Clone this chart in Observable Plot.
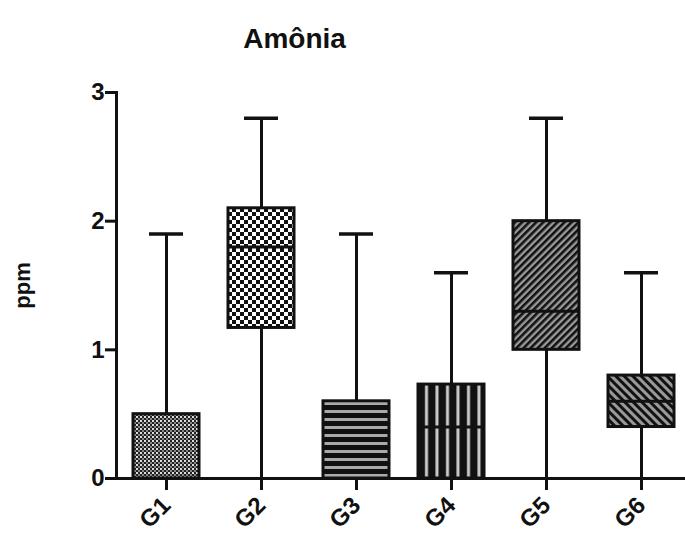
<!DOCTYPE html>
<html>
<head>
<meta charset="utf-8">
<script src="https://cdn.jsdelivr.net/npm/d3@7"></script>
<script src="https://cdn.jsdelivr.net/npm/@observablehq/plot@0.6"></script>
<style>
  html, body { margin: 0; padding: 0; background: #fff; }
  #chart svg { display: block; }
</style>
</head>
<body>
<div id="chart"></div>
<script>
const title = "Amônia";
const yLabel = "ppm";
const groups = ["G1", "G2", "G3", "G4", "G5", "G6"];
const mins = [0, 0, 0, 0, 0, 0];
const q1s = [0, 1.17, 0, 0, 1.0, 0.4];
const medians = [0, 1.8, 0, 0.4, 1.3, 0.6];
const q3s = [0.5, 2.1, 0.6, 0.73, 2.0, 0.8];
const maxs = [1.9, 2.8, 1.9, 1.6, 2.8, 1.6];
const yTicks = [0, 1, 2, 3];
const patterns = ["pat1", "pat2", "pat3", "pat4", "pat5", "pat6"];

const rows = groups.map((g, i) => ({
  group: g, min: mins[i], q1: q1s[i], median: medians[i], q3: q3s[i], max: maxs[i], pat: patterns[i]
}));

const font = "'Liberation Sans', Arial, Helvetica, sans-serif";

const boxMarks = rows.map(r =>
  Plot.barY([r], {x: "group", y1: "q1", y2: "q3", fill: `url(#${r.pat})`, stroke: "#111", strokeWidth: 3})
);

const chart = Plot.plot({
  width: 685,
  height: 541,
  marginLeft: 116,
  marginRight: 0,
  marginTop: 92,
  marginBottom: 63,
  style: {fontFamily: font, background: "#fff", color: "#111"},
  x: {type: "band", domain: groups, range: [116, 690], paddingInner: 0.31, paddingOuter: 0.157},
  y: {domain: [0, 3], ticks: yTicks},
  marks: [
    Plot.ruleX(rows, {x: "group", y1: "min", y2: "max", stroke: "#111", strokeWidth: 3}),
    Plot.tickY(rows, {x: "group", y: "max", stroke: "#111", strokeWidth: 3.5, insetLeft: 16, insetRight: 16}),
    ...boxMarks,
    Plot.tickY(rows, {x: "group", y: "median", stroke: "#111", strokeWidth: 3}),
    Plot.frame({anchor: "left", stroke: "#111", strokeWidth: 3}),
    Plot.frame({anchor: "bottom", stroke: "#111", strokeWidth: 3}),
    Plot.axisY({ticks: yTicks, tickFormat: "d", tickSize: 11, tickPadding: 1, strokeWidth: 3, fontSize: 24, fontWeight: "bold", label: null}),
    Plot.axisX({tickSize: 12, tickPadding: 11, strokeWidth: 3, fontSize: 24, fontWeight: "bold", tickRotate: -45, label: null}),
    Plot.text([title], {frameAnchor: "top-left", dx: 178, dy: -45, textAnchor: "middle", lineAnchor: "bottom", fontSize: 28, fontWeight: "bold", fill: "#111"}),
    Plot.text([yLabel], {frameAnchor: "left", dx: -94, rotate: -90, textAnchor: "middle", fontSize: 22, fontWeight: "bold", fill: "#111"})
  ]
});

const defs = d3.select(chart).insert("defs", ":first-child");
defs.html(`
  <pattern id="pat1" width="4" height="4" patternUnits="userSpaceOnUse">
    <rect width="4" height="4" fill="#222"/>
    <rect x="0" y="0" width="2" height="2" fill="#ddd"/>
    <rect x="2" y="2" width="2" height="2" fill="#888"/>
  </pattern>
  <pattern id="pat2" width="8" height="8" patternUnits="userSpaceOnUse">
    <rect width="8" height="8" fill="#fff"/>
    <rect x="0" y="0" width="4" height="4" fill="#111"/>
    <rect x="4" y="4" width="4" height="4" fill="#111"/>
  </pattern>
  <pattern id="pat3" width="8" height="8" patternUnits="userSpaceOnUse">
    <rect width="8" height="8" fill="#111"/>
    <rect x="0" y="2" width="8" height="3" fill="#aaa"/>
  </pattern>
  <pattern id="pat4" width="10.5" height="10" patternUnits="userSpaceOnUse">
    <rect width="10.5" height="10" fill="#111"/>
    <rect x="5" y="0" width="3" height="10" fill="#ccc"/>
  </pattern>
  <pattern id="pat5" width="5" height="5" patternUnits="userSpaceOnUse" patternTransform="rotate(45)">
    <rect width="5" height="5" fill="#999"/>
    <rect x="0" y="0" width="2.6" height="5" fill="#111"/>
  </pattern>
  <pattern id="pat6" width="6" height="6" patternUnits="userSpaceOnUse" patternTransform="rotate(-45)">
    <rect width="6" height="6" fill="#999"/>
    <rect x="0" y="0" width="3" height="6" fill="#111"/>
  </pattern>
`);

document.getElementById("chart").appendChild(chart);
</script>
</body>
</html>
